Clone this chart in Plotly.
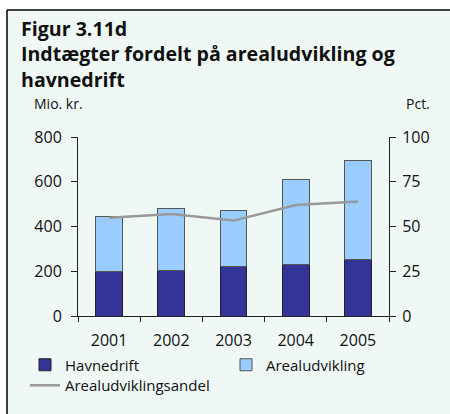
import plotly.graph_objects as go

years = ["2001", "2002", "2003", "2004", "2005"]
havnedrift = [200, 203, 223, 230, 254]
arealudvikling = [243, 277, 249, 378, 443]
andel = [54.9, 57.0, 53.3, 62.0, 63.9]

W, H = 450, 414
L, R, T, B = 78, 61, 137, 98
PW, PH = W - L - R, H - T - B

def px(x):
    return (x - L) / PW

def py(y):
    return (H - B - y) / PH

FONT = "Open Sans"
MINT = "#eff8f5"
DARK = "#333399"
LIGHT = "#99ccff"

fig = go.Figure()
fig.add_trace(go.Bar(x=years, y=havnedrift, name="Havnedrift",
                     marker=dict(color=DARK, line=dict(color="#222222", width=1)),
                     legend="legend", showlegend=True))
fig.add_trace(go.Bar(x=years, y=arealudvikling, name="Arealudvikling",
                     marker=dict(color=LIGHT, line=dict(color="#555555", width=1)),
                     legend="legend2", showlegend=True))
fig.add_trace(go.Scatter(x=years, y=andel, name="Arealudviklingsandel", yaxis="y2",
                         mode="lines", line=dict(color="#999999", width=2.5),
                         legend="legend3", showlegend=True))

axis_font = dict(family=FONT, size=16, color="#111111")
leg = dict(xanchor="left", yanchor="top", orientation="v", bgcolor="rgba(0,0,0,0)",
           font=dict(family=FONT, size=15, color="#111111"), itemwidth=30, visible=True)
fig.update_layout(
    width=W, height=H,
    showlegend=True,
    margin=dict(l=L, r=R, t=T, b=B, autoexpand=False),
    paper_bgcolor="white", plot_bgcolor="rgba(0,0,0,0)",
    barmode="stack", bargap=0.57,
    font=dict(family=FONT, size=15, color="#111111"),
    xaxis=dict(type="category", tickson="boundaries", ticks="outside", ticklen=5,
               tickcolor="#222222", showline=True, linecolor="#222222", linewidth=1,
               tickfont=axis_font, showgrid=False, ticklabelstandoff=10),
    yaxis=dict(range=[0, 800], dtick=200, ticks="outside", ticklen=6, tickcolor="#222222",
               showline=True, linecolor="#222222", linewidth=1, showgrid=False,
               zeroline=False, tickfont=axis_font, ticklabelstandoff=6),
    yaxis2=dict(range=[0, 100], dtick=25, overlaying="y", side="right", ticks="outside",
                ticklen=6, tickcolor="#222222", showline=True, linecolor="#222222",
                linewidth=1, showgrid=False, zeroline=False, tickfont=axis_font,
                ticklabelstandoff=3),
    legend=dict(leg, x=px(25), y=py(348.5)),
    legend2=dict(leg, x=px(226), y=py(348.5)),
    legend3=dict(leg, x=px(25), y=py(369)),
    shapes=[
        dict(type="rect", xref="paper", yref="paper", x0=px(7), x1=px(452), y0=py(10), y1=py(416),
             fillcolor=MINT, line=dict(width=0), layer="below"),
        dict(type="line", xref="paper", yref="paper", x0=px(7), x1=px(452), y0=py(10), y1=py(10),
             line=dict(color="black", width=1.5)),
        dict(type="line", xref="paper", yref="paper", x0=px(7), x1=px(7), y0=py(10), y1=py(416),
             line=dict(color="black", width=1.5)),
    ],
    annotations=[
        dict(text="<b>Figur 3.11d</b><br><b>Indtægter fordelt på arealudvikling og</b><br><b>havnedrift</b>",
             xref="paper", yref="paper", x=px(19), y=py(53.5), align="left",
             xanchor="left", yanchor="middle", showarrow=False, font=dict(family=FONT, size=19.6)),
        dict(text="Mio. kr.", xref="paper", yref="paper", x=px(32), y=py(103.5),
             xanchor="left", yanchor="middle", showarrow=False, font=dict(family=FONT, size=14)),
        dict(text="Pct.", xref="paper", yref="paper", x=px(432), y=py(103.5),
             xanchor="right", yanchor="middle", showarrow=False, font=dict(family=FONT, size=14)),
    ],
)

fig.write_html("out.html", post_script="document.body.style.margin='0';",
               config={"displayModeBar": False})
